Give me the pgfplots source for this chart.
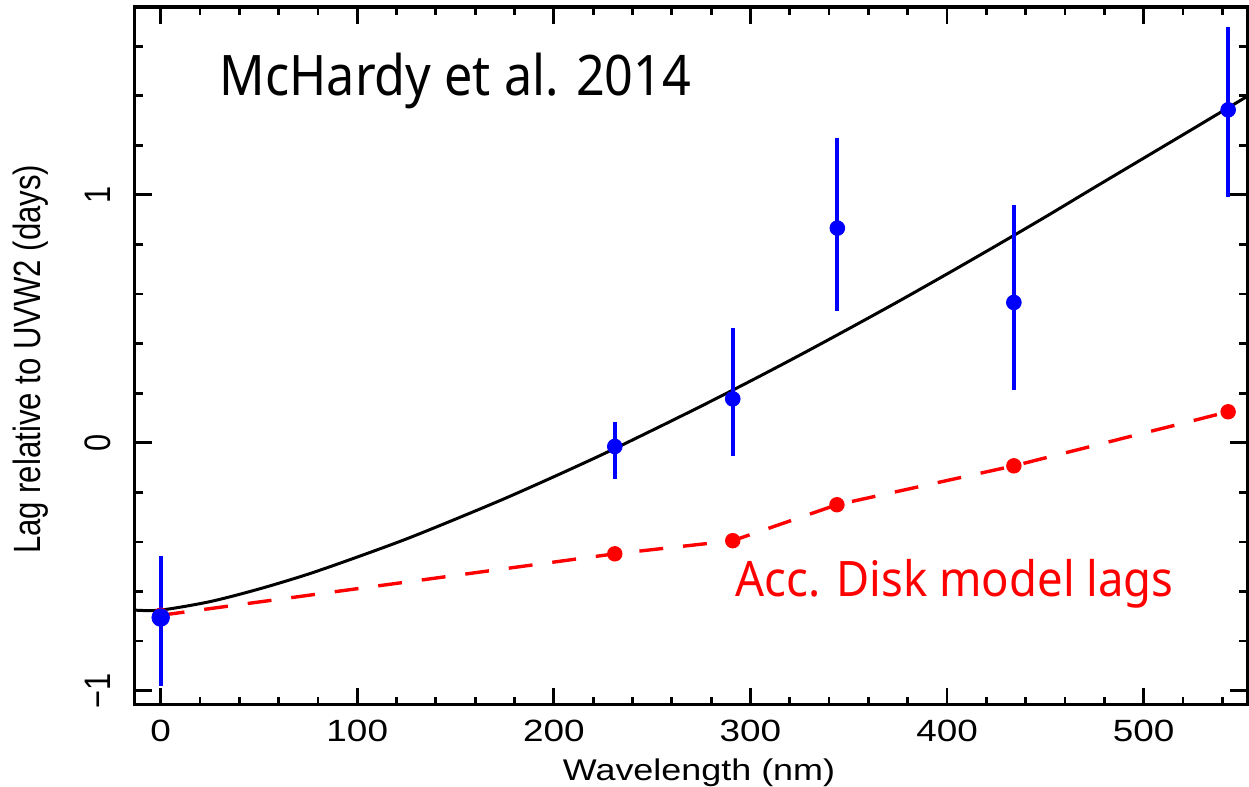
\documentclass[border=0pt]{standalone}
\usepackage{pgfplots}
\pgfplotsset{compat=1.18}
\usepackage{graphicx}
\usepackage{fontspec}
\setmainfont{Liberation Sans}
\newfontfamily\wide[FakeStretch=1.2]{Liberation Sans}
\newfontfamily\notoA[FakeStretch=0.9]{Noto Sans}
\newfontfamily\notoB[FakeStretch=0.93]{Noto Sans}
\definecolor{mred}{rgb}{1,0,0}
\definecolor{mblue}{rgb}{0,0,1}
\begin{document}
\begin{tikzpicture}
\begin{axis}[
  scale only axis,
  width=557.5pt, height=349.5pt,
  xmin=-13.2, xmax=552.8,
  ymin=-1.056, ymax=1.758,
  axis line style={line width=1.6pt},
  xtick={0,100,200,300,400,500},
  minor xtick={-20,20,40,60,80,120,140,160,180,220,240,260,280,320,340,360,380,420,440,460,480,520,540},
  ytick={-1,0,1},
  yticklabels={\scalebox{1}[1.2]{−1},\scalebox{1}[1.2]{0},\scalebox{1}[1.2]{1}},
  minor ytick={-0.8,-0.6,-0.4,-0.2,0.2,0.4,0.6,0.8,1.2,1.4,1.6},
  tick align=inside,
  major tick length=8.5pt,
  minor tick length=4pt,
  every tick/.style={line width=1.4pt, black},
  /pgf/number format/assume math mode=true,
  xticklabel style={font=\wide\fontsize{15.4}{17}\selectfont, inner sep=0pt, anchor=north},
  xticklabel shift=7.5pt,
  yticklabel style={font=\fontsize{15.4}{17}\selectfont, rotate=90, anchor=south, inner sep=0pt},
  yticklabel shift=12pt,
  xlabel={Wavelength (nm)},
  ylabel={\scalebox{1}[1.22]{Lag relative to UVW2 (days)}},
  xlabel style={font=\wide\fontsize{15}{17}\selectfont, at={([yshift=-27pt, xshift=4pt]axis description cs:0.5,0)}, anchor=north, inner sep=0pt},
  ylabel style={font=\fontsize{15.6}{17}\selectfont, at={([xshift=-61pt, yshift=-1.75pt]axis description cs:0,0.5)}, anchor=north, inner sep=0pt},
  clip=false,
]
% black model curve
\addplot[black, line width=1.5pt, smooth] coordinates {
(-13.2,-0.675) (0,-0.675) (25,-0.641) (50,-0.590) (75,-0.530) (100,-0.461)
(125,-0.388) (150,-0.308) (175,-0.225) (200,-0.137) (225,-0.046) (250,0.050)
(275,0.148) (300,0.249) (325,0.353) (350,0.460) (375,0.569) (400,0.681)
(425,0.795) (450,0.911) (475,1.030) (500,1.148) (525,1.266) (552.8,1.398)
};
% red accretion disk model lags
\addplot[color=mred, line width=1.7pt, dash pattern=on 12pt off 10pt,
  mark=*, mark size=3pt, mark options={solid}] coordinates {
(0,-0.696) (231,-0.448) (291,-0.395) (344,-0.250) (434,-0.093) (543,0.125)
};
% blue data with error bars
\addplot[color=mblue, only marks, mark=*, mark size=3.7pt,
  error bars/.cd, y dir=both, y explicit,
  error bar style={line width=2pt, mblue}, error mark=none]
  table[x=x, y=y, y error plus=ep, y error minus=em] {
x y ep em
231 -0.015 0.097 0.13
291 0.177 0.285 0.232
344.2 0.866 0.364 0.334
434 0.566 0.394 0.355
543 1.343 0.333 0.35
};
\addplot[color=mblue, only marks, mark=*, mark size=4.4pt,
  error bars/.cd, y dir=both, y explicit,
  error bar style={line width=2pt, mblue}, error mark=none]
  table[x=x, y=y, y error plus=ep, y error minus=em] {
x y ep em
0 -0.705 0.25 0.275
};
\node[anchor=base west, font=\notoA\fontsize{28}{32}\selectfont, inner sep=0pt]
  at (axis cs:29.9,1.399) {McHardy et al. 2014};
\node[anchor=base west, font=\notoB\fontsize{24.5}{28}\selectfont, inner sep=0pt, text=mred]
  at (axis cs:292.4,-0.620) {Acc. Disk model lags};
\coordinate (TL) at (rel axis cs:0,1);
\end{axis}
\path (TL) ++(-67.5pt,3.5pt);
\end{tikzpicture}
\end{document}
